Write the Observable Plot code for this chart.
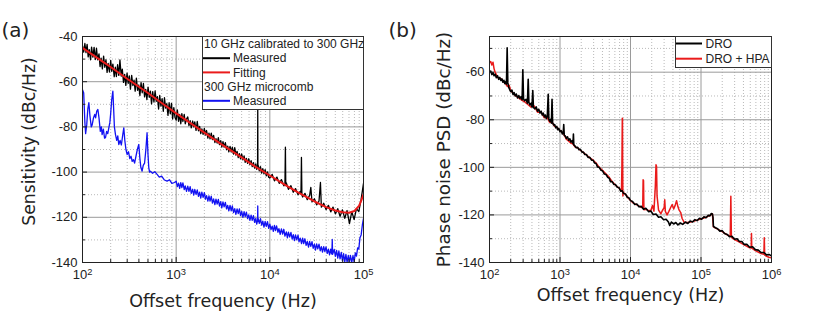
<!DOCTYPE html>
<html>
<head>
<meta charset="utf-8">
<script src="https://cdn.jsdelivr.net/npm/d3@7"></script>
<script src="https://cdn.jsdelivr.net/npm/@observablehq/plot@0.6"></script>
<style>
  body { margin: 0; background: #fff; }
  #wrap { position: relative; width: 830px; height: 317px; display: flex; }
  #wrap > svg { display: block; flex: none; }
  #legends { position: absolute; left: 0; top: 0; pointer-events: none; }
</style>
</head>
<body>
<div id="wrap"></div>
<script>
// ---------- data: panel (a) ----------
const measured10G = [[100,-44.2],[103,-46.9],[106,-43.1],[109,-47.1],[112,-43.5],[115,-49],[118,-45.8],[122,-50.3],[125,-44.7],[129,-49.1],[133,-44.8],[137,-50.2],[141,-45.2],[145,-50.3],[150,-47.7],[154,-53.3],[158,-49.6],[163,-54.3],[168,-48.7],[173,-53.6],[178,-50.3],[183,-55.9],[188,-51.9],[194,-55.7],[200,-50.6],[205,-55.4],[211,-52.2],[218,-57.8],[224,-53.6],[230,-57.7],[237,-52.5],[244,-57.2],[251,-50.4],[259,-57.5],[266,-54.4],[274,-60.3],[282,-56.8],[290,-61.6],[299,-56.2],[307,-60.7],[316,-57.4],[325,-63.3],[335,-57.2],[345,-61.7],[355,-59.3],[365,-64.2],[376,-58.4],[387,-63.8],[398,-61.5],[410,-66.1],[422,-60.4],[434,-64.9],[447,-60.8],[460,-66.7],[473,-63.4],[487,-67.9],[501,-62.4],[516,-66.9],[531,-64.2],[546,-69.8],[562,-64.4],[579,-69],[596,-64.1],[613,-68.7],[631,-66.6],[649,-72.1],[668,-66.1],[688,-70.8],[708,-67.5],[729,-73.1],[750,-67.1],[772,-71.7],[794,-69.7],[818,-74.9],[841,-69.3],[866,-74.2],[891,-69.6],[917,-76.5],[944,-71.5],[972,-75.8],
[1000,-77],[1030,-72.5],[1060,-77.5],[1090,-74.5],[1120,-78.6],[1150,-74.1],[1180,-77.6],[1220,-74.5],[1250,-78.6],[1290,-76.5],[1330,-75.6],[1370,-79.4],[1410,-77.2],[1450,-80.4],[1500,-77.4],[1540,-80],[1580,-77.8],[1630,-81.5],[1680,-77.6],[1730,-81.7],[1780,-79.8],[1830,-83],[1880,-80.9],[1940,-83.3],[2000,-80.7],[2050,-83.6],[2110,-81.6],[2180,-85],[2240,-82.8],[2300,-85.3],[2370,-82.8],[2440,-85.6],[2510,-83.8],[2590,-86.9],[2660,-85.2],[2740,-87.2],[2820,-84.8],[2900,-87.8],[2990,-86.1],[3070,-88.9],[3160,-86.5],[3250,-88.9],[3350,-87],[3450,-90.1],[3550,-88.5],[3650,-91],[3760,-88.6],[3870,-91.1],[3980,-89],[4100,-92],[4220,-89.2],[4340,-92.5],[4470,-90.8],[4600,-93.6],[4730,-91.8],[4870,-94.1],[5010,-92],[5160,-94.6],[5310,-92.8],[5460,-95.7],[5620,-93.9],[5790,-96.1],[5960,-94.1],[6130,-96.7],[6310,-94.9],[6490,-97.6],[6680,-95.8],[6880,-98.2],[7080,-96.4],[7250,-98.8],[7400,-97.6],[7430,-72],[7460,-98],[7500,-96.9],[7720,-99.4],[7940,-97.6],[8180,-100.4],[8410,-98.5],[8660,-100.8],[8910,-98.9],[9170,-101.7],[9440,-99.9],[9720,-102.3],
[10000,-102.6],[10600,-101],[11200,-103.9],[11900,-102.2],[12600,-105],[13300,-103.3],[14100,-106.1],[14500,-105.3],[14660,-89],[14800,-105.8],[15000,-104.8],[15800,-107.6],[16800,-106],[17800,-108.9],[18800,-107.3],[20000,-110],[21100,-108.5],[21500,-109.6],[21750,-93.5],[22000,-110],[22400,-111],[23700,-109.4],[25100,-112.2],[26600,-110.3],[27400,-106.8],[28200,-113.2],[29900,-111.8],[31600,-114.5],[33500,-112.8],[34700,-104.6],[35500,-115.5],[37600,-113.8],[39800,-116.6],[42200,-114.7],[44700,-117.6],[47300,-115.5],[50100,-118.5],[53100,-116.2],[56200,-119.6],[59600,-116.7],[63100,-120.5],[66800,-117],[70800,-122.8],[75000,-117.5],[79400,-121],[84100,-116.2],[89100,-117.5],[94400,-112],[100000,-105]];

const fitting10G = [[100,-45],[150,-50],[200,-53.5],[300,-58.7],[500,-65],[700,-69.4],[1000,-74],[1500,-79],[2000,-82.5],[3000,-87.5],[5000,-93.5],[7000,-97.6],[10000,-101.5],[15000,-106],[20000,-109],[30000,-113],[40000,-115.5],[50000,-117],[60000,-117.8],[70000,-118],[80000,-117.2],[90000,-114.8],[100000,-110]];

const measured300G = [[100,-63.5],[103,-65],[106,-78],[108,-83],[111,-79],[114,-72],[117,-69.3],[120,-75],[124,-80],[127,-79],[131,-76],[135,-74.5],[138,-76],[142,-73],[146,-72.3],[150,-76],[155,-82],[159,-80],[162,-83.4],[167,-81],[172,-85],[176,-84.8],[181,-82],[186,-83],[191,-80.4],[196,-78],[200,-74],[205,-68],[211,-64.2],[215,-72],[219,-80],[225,-83.4],[232,-86],[238,-84],[244,-87.8],[252,-86],[260,-88],[268,-84],[276,-80.4],[283,-86],[291,-90],[300,-92.2],[310,-91],[320,-94],[330,-93],[339,-95.2],[350,-94.5],[360,-96],[372,-93],[385,-90],[399,-87.8],[410,-94],[420,-98],[433,-99.6],[445,-97],[460,-96],[475,-90],[489,-82.6],[500,-92],[510,-98],[520,-100],[531,-99.6],[560,-100.5],[590,-99.8],[626,-101],[660,-102.2],[700,-101.8],[750,-103.5],[800,-104],[850,-103.4],[900,-105],[960,-104.6],
[1000,-104],[1030,-106.4],[1060,-104.9],[1090,-107.2],[1120,-104.7],[1150,-106.9],[1180,-104.8],[1220,-107.7],[1250,-106.1],[1290,-108.5],[1330,-106.2],[1370,-108.5],[1410,-106.4],[1450,-109.4],[1500,-107.6],[1540,-110.2],[1580,-107.7],[1630,-109.8],[1680,-107.9],[1730,-110.7],[1780,-108.9],[1830,-111.5],[1880,-108.9],[1940,-111.2],[2000,-109.1],[2050,-112],[2110,-110.4],[2180,-112.8],[2240,-110.5],[2300,-112.8],[2370,-110.7],[2440,-113.7],[2510,-111.9],[2590,-114.4],[2660,-112],[2740,-114.1],[2820,-112.1],[2900,-115],[2990,-113.1],[3070,-115.8],[3160,-113.2],[3250,-115.4],[3350,-113.4],[3450,-116.3],[3550,-114.7],[3650,-117.1],[3760,-114.7],[3870,-117.1],[3980,-115],[4100,-117.9],[4220,-116.2],[4340,-118.7],[4470,-116.3],[4600,-118.4],[4730,-116.3],[4870,-119.3],[5010,-117.4],[5160,-120],[5310,-117.5],[5460,-119.7],[5620,-117.7],[5790,-120.6],[5960,-118.9],[6130,-121.4],[6310,-119],[6490,-121.3],[6680,-119.3],[6880,-122.2],[7080,-120.5],[7250,-123],[7400,-121.4],[7430,-115],[7460,-121.8],[7500,-120.5],[7720,-122.7],[7940,-120.6],[8180,-123.5],[8410,-121.7],[8660,-124.3],[8910,-121.8],[9170,-124],[9440,-121.9],[9720,-124.9],
[10000,-123],[10300,-125.4],[10600,-123.9],[10900,-126.2],[11200,-123.6],[11500,-125.9],[11800,-123.8],[12200,-126.6],[12500,-125],[12900,-127.5],[13300,-125.1],[13700,-127.4],[14100,-125.3],[14500,-128.3],[15000,-126.5],[15400,-129.1],[15800,-126.6],[16300,-128.7],[16800,-126.7],[17300,-129.6],[17800,-127.7],[18300,-130.3],[18800,-127.8],[19400,-130],[20000,-127.9],[20500,-130.9],[21100,-129.2],[21800,-131.6],[22400,-129.2],[23000,-131.6],[23700,-129.5],[24400,-132.4],[25100,-130.7],[25900,-133.2],[26600,-130.7],[27400,-132.9],[28200,-130.8],[29000,-133.7],[29900,-131.9],[30700,-134.5],[31600,-131.8],[32500,-134],[33500,-131.9],[34500,-134.8],[35500,-133],[36500,-135.4],[37600,-133],[38700,-135.2],[39800,-133.1],[41000,-136],[42200,-134.1],[43400,-136.6],[44700,-134.1],[45600,-136.2],[46000,-135],[46400,-129.8],[46800,-136.4],[48700,-134.2],[50100,-137.3],[51600,-134.6],[53100,-138.1],[54600,-134.9],[56200,-138.4],[57900,-135.5],[59600,-139.3],[61300,-136.1],[63100,-139.8],[64900,-136.4],[66800,-139.9],[68800,-136.9],[70800,-139.9],[72500,-136.9],[75000,-139.9],[77200,-136.9],[79400,-139.8],[81800,-135.7],[84100,-137.2],[86600,-133.5],[89100,-134],[91700,-129],[94400,-127.8],[97200,-123.4],[100000,-120.5]];

// ---------- data: panel (b) ----------
const dro = [[100,-60],[104,-59.5],[108,-61],[112,-60.2],[116,-61.5],[120,-60.8],[125,-62.3],[130,-61.5],[135,-63],[140,-62.2],[145,-63.5],[150,-62.8],[155,-64.2],[160,-63.4],[165,-64.8],[170,-64],[174,-65],[178,-49.8],[182,-64.5],[188,-66.5],[194,-67.4],[200,-68.2],[208,-67.5],[216,-69.4],[224,-68.6],[232,-70],[240,-69.2],[250,-70.8],[260,-69.8],[270,-71],[280,-70.3],[290,-71.6],[297,-59],[304,-71.2],[315,-72],[330,-71.4],[345,-73],[354,-63],[362,-72.6],[375,-73.8],[390,-73],[400,-74.6],[411,-67.7],[420,-74.8],[440,-75.4],[460,-74.6],[480,-76.4],[500,-75.6],[520,-77.2],[540,-76.4],[560,-78],[580,-77.2],[600,-78.8],[620,-78],[640,-79.5],[660,-78.7],[680,-69.3],[695,-79.8],[715,-80.6],[735,-79.8],[755,-81.4],[771,-71.4],[785,-81],[810,-82.2],[840,-82],[870,-83.4],[900,-82.8],[930,-84.2],[960,-83.6],[1000,-85],[1040,-84.6],[1080,-86],[1110,-85.6],[1130,-82],[1150,-86.6],[1190,-86.8],[1230,-87.8],[1280,-87.2],[1330,-88.6],[1380,-88],[1430,-89.4],[1480,-88.8],[1530,-90],[1550,-86],[1570,-90.6],[1630,-91],[1700,-91.8],[1780,-91.6],[1860,-92.6],[1950,-92.4],[2050,-93.6],[2150,-93.6],[2250,-94.6],[2370,-94.6],[2500,-95.8],[2650,-95.8],[2800,-97],[2950,-97],[3100,-98.2],[3250,-98.4],[3400,-99.8],[3600,-100],[3800,-101.2],[4000,-101.4],[4250,-102.8],[4500,-103],[4750,-104.2],[5000,-104.6],[5200,-106],[5500,-106],[5800,-107.2],[6100,-107.2],[6500,-108.4],[6900,-108.6],[7250,-110],[7600,-109.8],[8000,-111],[8500,-111.2],[9000,-112.6],[9500,-112.8],[10000,-114],[10700,-114.4],[11500,-115.6],[12300,-115.4],[13200,-116.6],[14200,-116.4],[15300,-117.6],[16500,-117.2],[18000,-118.6],[19500,-118.4],[21000,-119.8],[23000,-119.6],[25000,-121],[27000,-120.8],[29500,-122],[32000,-121.8],[34500,-123],[36000,-124.4],[38000,-123],[41000,-123.8],[44000,-123.2],[47000,-124.2],[51000,-123.4],[55000,-124],[60000,-123],[65000,-123.6],[70000,-122.6],[76000,-123],[82000,-122],[88000,-122.4],[95000,-121.4],[102000,-121.8],[110000,-120.8],[118000,-121.2],[126000,-120.2],[134000,-120.4],[140000,-119.4],[145000,-119.6],[148000,-121],[150000,-124.8],[160000,-125.4],[172000,-125.8],[185000,-126.8],[200000,-126.6],[215000,-127.8],[235000,-128.2],[255000,-129.2],[275000,-129],[300000,-130.2],[325000,-130],[350000,-131.2],[380000,-131.2],[410000,-132.4],[450000,-132.4],[490000,-133.6],[540000,-133.4],[590000,-134.6],[650000,-134.8],[710000,-135.8],[780000,-135.8],[850000,-136.8],[920000,-136.6],[1000000,-137.2]];

const droHpa = [[100,-56],[104,-55.5],[108,-57],[112,-55.8],[116,-58.5],[120,-60],[125,-61],[130,-62.2],[140,-62.5],[150,-63],[160,-64.2],[170,-65],[180,-66],[190,-65.5],[200,-67.8],[216,-68.8],[232,-69.8],[250,-70.4],[270,-71.2],[290,-71.8],[320,-72.6],[350,-73.6],[385,-74.6],[430,-74.2],[480,-76.8],[540,-76.8],[600,-79.2],[660,-79],[710,-81],[770,-81],[840,-82.8],[900,-83.2],[960,-84],[1040,-85],[1120,-85.8],[1230,-88.2],[1330,-89],[1430,-89.8],[1530,-90.2],[1630,-91.4],[1780,-91.8],[1950,-92.8],[2150,-93.8],[2370,-94.8],[2650,-96],[2950,-97],[3250,-98.2],[3600,-100],[4000,-101.2],[4500,-102.8],[5000,-104.2],[5500,-106],[6100,-107.4],[6900,-108.8],[7450,-110],[7550,-100],[7650,-79.4],[7700,-79.4],[7750,-100],[7800,-112],[7850,-110.4],[8500,-111.4],[9500,-113.2],[10700,-114.8],[12300,-115.8],[14200,-116.8],[14900,-117],[15100,-105.2],[15300,-105.6],[15500,-117.8],[16500,-117.6],[18000,-118.2],[19500,-118],[20500,-116],[21500,-118.4],[22500,-108],[23000,-98.9],[23400,-99.5],[23800,-112],[25000,-118],[27000,-119.5],[28500,-118],[30000,-117],[30600,-113.6],[31200,-118.5],[33000,-120],[35000,-118.5],[37000,-117],[39000,-115.6],[41000,-117.5],[43000,-116],[45000,-114],[47000,-116.5],[49000,-118],[51600,-119],[54000,-121.5],[58000,-123.2],[65000,-123.2],[76000,-122.8],[88000,-122.2],[102000,-121.6],[118000,-121],[134000,-120.2],[145000,-119.5],[150000,-125],[172000,-126],[200000,-127],[235000,-128.4],[260000,-129],[265000,-112.2],[270000,-129.4],[300000,-130.4],[350000,-131.4],[410000,-132.6],[490000,-133.8],[515000,-133.9],[520000,-127.8],[525000,-134],[590000,-135],[710000,-136.2],[780000,-136.6],[790000,-129.6],[800000,-136.8],[850000,-137.4],[920000,-137.8],[1000000,-138]];

// ---------- ticks & text ----------
const xTicksA = [1e2, 1e3, 1e4, 1e5];
const xTicksB = [1e2, 1e3, 1e4, 1e5, 1e6];
const yTicksA = [-40, -60, -80, -100, -120, -140];
const yTicksB = [-60, -80, -100, -120, -140];
const yMinorA = [-50, -70, -90, -110, -130];
const yMinorB = [-50, -70, -90, -110, -130];
const minorMantissas = [2, 3, 4, 5, 6, 7, 8, 9];
const xTitle = "Offset frequency (Hz)";
const yTitleA = "Sensitivity (dBc/Hz)";
const yTitleB = "Phase noise PSD (dBc/Hz)";
const panelLabels = ["(a)", "(b)"];
const legendA = [["10 GHz calibrated to 300 GHz", null], ["Measured", "black"], ["Fitting", "red"], ["300 GHz microcomb", null], ["Measured", "blue"]];
const legendB = [["DRO", "black"], ["DRO + HPA", "red"]];

const COLORS = {black: "#000000", red: "#ea1b1b", blue: "#1212f2"};
const TICK_FONT = "'Liberation Sans', Arial, sans-serif";
const TITLE_FONT = "'DejaVu Sans', Verdana, sans-serif";

function minorTicks(domain) {
  const out = [];
  for (let e = Math.round(Math.log10(domain[0])); e < Math.round(Math.log10(domain[1])); e++)
    for (const m of minorMantissas) out.push(m * 10 ** e);
  return out;
}

function panel(o) {
  const H = 317, mt = 36, mb = 55;
  const plotW = o.width - o.ml - o.mr, plotH = H - mt - mb;
  const xMinor = minorTicks(o.xDomain);
  const p = Plot.plot({
    width: o.width, height: H,
    marginLeft: o.ml, marginRight: o.mr, marginTop: mt, marginBottom: mb,
    style: {fontFamily: TICK_FONT, fontSize: "13px", color: "#222", background: "white", overflow: "visible"},
    x: {type: "log", domain: o.xDomain},
    y: {domain: o.yDomain},
    marks: [
      Plot.ruleX(xMinor, {stroke: "#b9b9b9", strokeDasharray: "1,2"}),
      Plot.ruleY(o.yMinor, {stroke: "#b9b9b9", strokeDasharray: "1,2"}),
      Plot.ruleX(o.xTicks, {stroke: "#9a9a9a"}),
      Plot.ruleY(o.yTicks, {stroke: "#9a9a9a"}),
      ...o.series.map(s => Plot.line(s.data, {x: d => d[0], y: d => d[1], stroke: COLORS[s.color], strokeWidth: s.w, clip: true})),
      // inside ticks
      Plot.ruleX(xMinor, {insetTop: plotH - 3, stroke: "#222"}),
      Plot.ruleX(o.xTicks, {insetTop: plotH - 5, stroke: "#222"}),
      Plot.ruleY(o.yMinor, {insetRight: plotW - 3, stroke: "#222"}),
      Plot.ruleY(o.yTicks, {insetRight: plotW - 5, stroke: "#222"}),
      Plot.frame({stroke: "#222"}),
      Plot.axisX({ticks: o.xTicks, tickSize: 0, tickPadding: 7, label: null,
        tickFormat: d => "10^" + Math.round(Math.log10(d))}),
      Plot.axisY({ticks: o.yTicks, tickSize: 0, tickPadding: 5, label: null,
        tickFormat: d => String(d)}),
      Plot.text([o.yTitle], {text: d => d, frameAnchor: "left", textAnchor: "middle", lineAnchor: "middle",
        rotate: -90, dx: o.yTitleDx, dy: o.yTitleDy, fontFamily: TITLE_FONT, fontSize: o.yTitleSize, fill: "#222"}),
      Plot.text([xTitle], {text: d => d, frameAnchor: "bottom", textAnchor: "middle", lineAnchor: "middle",
        dy: o.xTitleDy, fontFamily: TITLE_FONT, fontSize: 17.5, fill: "#222"}),
      Plot.text([o.label], {text: d => d, frameAnchor: "top-left", textAnchor: "start", lineAnchor: "middle",
        dx: o.labelDx, dy: -6, fontFamily: TITLE_FONT, fontSize: 20, fill: "#222"})
    ]
  });
  // superscript exponents
  d3.select(p).selectAll("g[aria-label='x-axis tick label'] text").each(function () {
    const t = d3.select(this);
    const s = t.text();
    if (!s.includes("^")) return;
    const [b, e] = s.split("^");
    t.text(b);
    t.append("tspan").attr("dy", "-0.42em").attr("font-size", "0.72em").text(e);
  });
  return p;
}

const wrap = document.getElementById("wrap");
wrap.appendChild(panel({
  width: 385, ml: 82, mr: 22, xDomain: [1e2, 1e5], yDomain: [-140, -40],
  xTicks: xTicksA, yTicks: yTicksA, yMinor: yMinorA,
  series: [
    {data: measured300G, color: "blue", w: 1.3},
    {data: measured10G, color: "black", w: 1.3},
    {data: fitting10G, color: "red", w: 2}
  ],
  yTitle: yTitleA, yTitleDx: -53, yTitleDy: -8, yTitleSize: 17.2, xTitleDy: 39, label: panelLabels[0], labelDx: -81
}));
wrap.appendChild(panel({
  width: 445, ml: 104, mr: 59, xDomain: [1e2, 1e6], yDomain: [-140, -45],
  xTicks: xTicksB, yTicks: yTicksB, yMinor: yMinorB,
  series: [
    {data: droHpa, color: "red", w: 1.5},
    {data: dro, color: "black", w: 1.6}
  ],
  yTitle: yTitleB, yTitleDx: -45, yTitleDy: 0, yTitleSize: 18.3, xTitleDy: 33, label: panelLabels[1], labelDx: -101
}));

// ---------- legends ----------
const lg = d3.select(wrap).append("svg").attr("id", "legends").attr("width", 830).attr("height", 317)
  .style("font-family", TICK_FONT).style("font-size", "12px");
function drawLegend(rows, box, firstY, rowH, lineX0, lineX1, textX, plainX) {
  lg.append("rect").attr("x", box[0] + 0.5).attr("y", box[1] + 0.5).attr("width", box[2]).attr("height", box[3])
    .attr("fill", "white").attr("stroke", "#333");
  rows.forEach(([label, color], i) => {
    const y = firstY + i * rowH;
    if (color) {
      lg.append("line").attr("x1", lineX0).attr("x2", lineX1).attr("y1", y).attr("y2", y)
        .attr("stroke", COLORS[color]).attr("stroke-width", 2);
    }
    lg.append("text").attr("x", color ? textX : plainX).attr("y", y).attr("dy", "0.35em")
      .attr("fill", "#222").text(label);
  });
}
drawLegend(legendA, [202, 36, 161, 73], 44, 14.2, 203, 230, 233, 204);
drawLegend(legendB, [675, 36, 96, 31], 43.5, 15.2, 676, 702, 705.5, 705.5);
</script>
</body>
</html>
